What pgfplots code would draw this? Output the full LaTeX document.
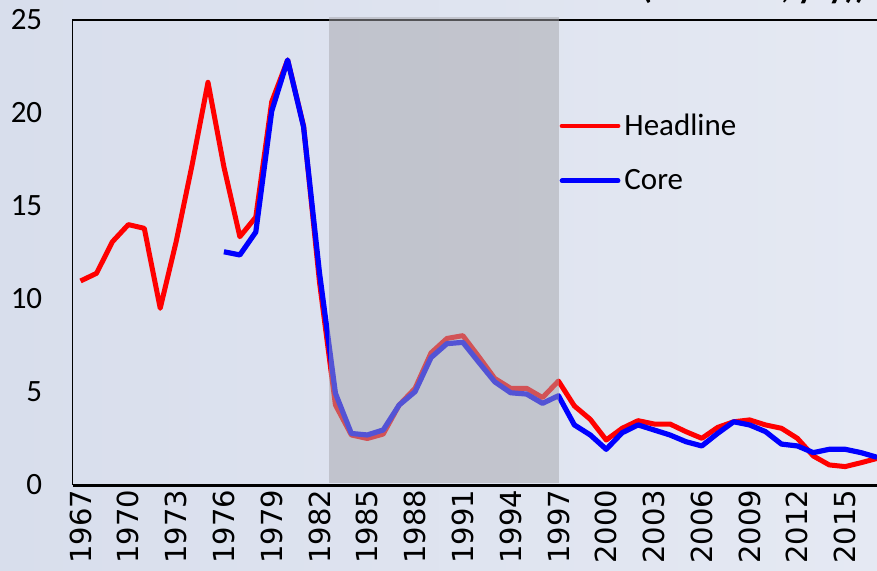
\documentclass[border=0pt]{standalone}
\usepackage{pgfplots}
\pgfplotsset{compat=1.18}
\usepackage{fontspec}
\setmainfont{Carlito}
\newfontfamily\dejavu{DejaVu Sans}
\definecolor{bgL}{RGB}{216,222,236}
\definecolor{bgR}{RGB}{229,233,243}
\definecolor{shadegray}{RGB}{166,166,172}
\begin{document}
\begin{tikzpicture}
\useasboundingbox (0,0) rectangle (438.5pt,285pt);
\clip (0,0) rectangle (438.5pt,285pt);
\shade[left color=bgL, right color=bgR] (0,0) rectangle (438.5pt,285pt);
\node[anchor=base east, inner sep=0pt, font=\bfseries\fontsize{17}{20}\selectfont] at (433pt,285.6pt) {(\% annual, y/y))};
\begin{axis}[
  at={(36.3pt,42.5pt)}, anchor=south west,
  scale only axis, width=406.2pt, height=232.5pt,
  xmin=1966.5, xmax=2017.5, ymin=0, ymax=25,
  xtick={1967,1970,...,2015}, ytick={0,5,...,25},
  axis line style={draw=none}, major tick length=0pt,
  clip=false,
  /pgf/number format/assume math mode=true,
  /pgf/number format/1000 sep={},
  x tick label style={rotate=90, anchor=east, inner sep=0pt, outer sep=2.5pt, font=\dejavu\fontsize{14.5}{16}\selectfont},
  y tick label style={anchor=east, inner sep=0pt, xshift=-15pt, font=\fontsize{15.5}{18}\selectfont},
  legend style={draw=none, fill=none, at={(axis cs:1997.05,20.2)}, anchor=north west, inner sep=0pt,
    font=\fontsize{15.5}{18}\selectfont, row sep=11.5pt},
  legend cell align=left,
  legend image code/.code={\draw[#1, line width=2.4pt, line cap=round] (0pt,0pt) -- (28pt,0pt);},
]
\draw[black, line width=0.7pt] (rel axis cs:0,0) -- (rel axis cs:0,1) -- (rel axis cs:1,1);
\addplot[red, line width=2.5pt, line join=round] coordinates {
(1967,10.97) (1968,11.38) (1969,13.08) (1970,14.0) (1971,13.8) (1972,9.5) (1973,13.08) (1974,17.2)
(1975,21.65) (1976,17.1) (1977,13.35) (1978,14.4) (1979,20.6) (1980,22.85) (1981,19.3) (1982,10.9)
(1983,4.3) (1984,2.69) (1985,2.5) (1986,2.74) (1987,4.3) (1988,5.2) (1989,7.1) (1990,7.88)
(1991,8.03) (1992,6.9) (1993,5.73) (1994,5.2) (1995,5.2) (1996,4.7) (1997,5.59) (1998,4.25)
(1999,3.53) (2000,2.42) (2001,3.05) (2002,3.46) (2003,3.28) (2004,3.28) (2005,2.87) (2006,2.51)
(2007,3.1) (2008,3.4) (2009,3.5) (2010,3.23) (2011,3.05) (2012,2.51) (2013,1.56) (2014,1.08)
(2015,0.99) (2016,1.2) (2017,1.43)
};
\addlegendentry{Headline}
\addplot[blue, line width=2.6pt, line join=round] coordinates {
(1976,12.54) (1977,12.37) (1978,13.6) (1979,20.1) (1980,22.85) (1981,19.25) (1982,11.4) (1983,4.93)
(1984,2.77) (1985,2.69) (1986,2.96) (1987,4.3) (1988,5.02) (1989,6.85) (1990,7.6) (1991,7.67)
(1992,6.6) (1993,5.55) (1994,4.96) (1995,4.89) (1996,4.39) (1997,4.8) (1998,3.23) (1999,2.69)
(2000,1.92) (2001,2.81) (2002,3.23) (2003,2.96) (2004,2.69) (2005,2.33) (2006,2.1) (2007,2.78)
(2008,3.4) (2009,3.23) (2010,2.87) (2011,2.2) (2012,2.1) (2013,1.74) (2014,1.92) (2015,1.92)
(2016,1.74) (2017,1.49)
};
\addlegendentry{Core}
\fill[shadegray, opacity=0.5] (axis cs:1982.6,0.12) rectangle (axis cs:1997.05,25.15);
\draw[black, line width=1.5pt] (rel axis cs:0,0) -- (rel axis cs:1,0);
\end{axis}
\end{tikzpicture}
\end{document}
